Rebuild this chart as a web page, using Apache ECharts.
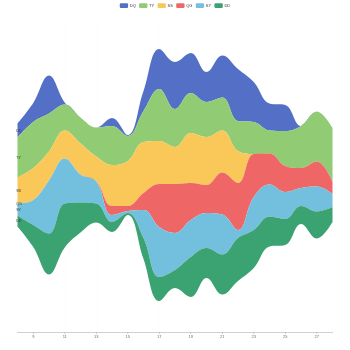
<!DOCTYPE html>
<html>
<head>
<meta charset="utf-8">
<script src="https://cdn.jsdelivr.net/npm/echarts@6/dist/echarts.min.js"></script>
<style>
html,body{margin:0;padding:0;overflow:hidden;background:#fff}
#wrap{width:350px;height:350px;overflow:hidden;position:relative}
#c{width:1050px;height:1050px;transform:scale(0.3333333);transform-origin:0 0;position:absolute;left:0;top:0}
</style>
</head>
<body>
<div id="wrap"><div id="c"></div></div>
<script>
const dates = ['2015/11/08','2015/11/09','2015/11/10','2015/11/11','2015/11/12','2015/11/13','2015/11/14',
  '2015/11/15','2015/11/16','2015/11/17','2015/11/18','2015/11/19','2015/11/20','2015/11/21',
  '2015/11/22','2015/11/23','2015/11/24','2015/11/25','2015/11/26','2015/11/27','2015/11/28'];
const names = ['DQ','TY','SS','QG','SY','DD'];
const DQ = [14, 19, 38, 2, 0, 0, 8, 1, 20, 40, 47, 40, 30, 42, 52, 40, 27, 26, 0, 0, 0];
const TY = [40, 46, 38, 26, 26, 29, 39, 25, 31, 52, 38, 40, 35, 33, 30, 32, 23, 35, 42, 50, 54];
const SS = [26, 32, 29, 28, 31, 25, 41, 45, 51, 43, 37, 50, 48, 42, 32, 0, 0, 0, 0, 0, 0];
const QG = [0, 0, 0, 0, 0, 0, 9, 5, 17, 43, 49, 37, 28, 42, 47, 43, 31, 26, 20, 25, 12];
const SY = [12, 25, 53, 45, 28, 22, 7, 2, 28, 50, 37, 37, 35, 40, 8, 33, 32, 27, 18, 25, 13];
const DD = [11, 22, 41, 44, 30, 19, 10, 2, 21, 24, 18, 40, 30, 40, 43, 38, 30, 26, 18, 27, 15];
const values = [DQ, TY, SS, QG, SY, DD];

const rows = [];
names.forEach(function (n, i) {
  dates.forEach(function (d, k) { rows.push([d, values[i][k], n]); });
});

const el = document.getElementById('c');
const chart = echarts.init(el, null, {devicePixelRatio: 1/3, width: 1050, height: 1050});
const DAY = 86400000;
chart.setOption({
  animation: false,
  color: ['#5470c6','#91cc75','#fac858','#ee6666','#73c0de','#3ba272'],
  legend: {
    data: names, top: 5, left: 'center', orient: 'horizontal',
    itemWidth: 25, itemHeight: 14, itemGap: 10, icon: 'roundRect',
    textStyle: {color: '#333', fontSize: 12}
  },
  singleAxis: {
    type: 'time', left: '5%', right: '5%', top: '5%', bottom: '5%',
    minInterval: 2 * DAY, maxInterval: 2 * DAY,
    axisLine: {show: true, lineStyle: {color: '#6E7079', width: 1}},
    axisTick: {show: true, length: 5, lineStyle: {color: '#6E7079'}},
    axisLabel: {color: '#6E7079', fontSize: 12, margin: 8,
      formatter: function (v) { return String(new Date(v).getDate()); }},
    splitLine: {show: true, lineStyle: {color: '#E0E6F1', width: 1}}
  },
  series: [{
    type: 'themeRiver',
    boundaryGap: ['10%', '10%'],
    label: {show: true, margin: 4, fontSize: 11, color: '#333'},
    data: rows
  }]
});
</script>
</body>
</html>
